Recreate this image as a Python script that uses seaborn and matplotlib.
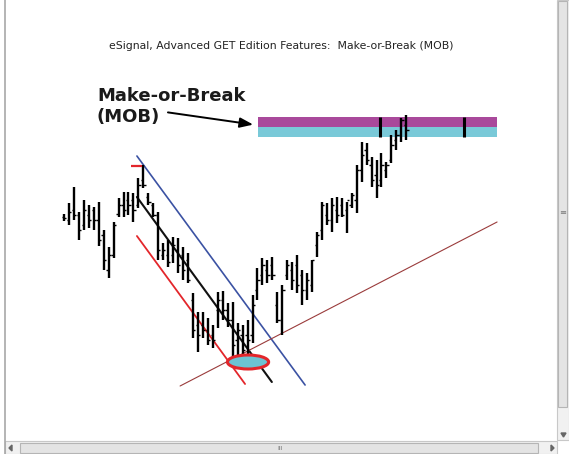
import numpy as np
import pandas as pd
import matplotlib
matplotlib.use("Agg")
import matplotlib.pyplot as plt
from matplotlib.patches import Ellipse, Rectangle, Polygon
import seaborn as sns

# precos diarios (barras OHLC)
maximos = [28.6, 29.7, 31.3, 28.8, 30.0, 29.5, 29.3, 29.8, 27.0, 25.3,
           27.8, 30.2, 30.8, 30.8, 30.7, 32.2, 33.5, 30.7, 29.7, 28.8,
           25.7, 26.0, 26.3, 26.2, 25.3, 24.7, 20.7, 18.8, 18.8, 18.2,
           17.5, 20.8, 20.9, 19.7, 19.8, 17.7, 17.5, 18.0, 20.5, 23.2,
           24.2, 24.0, 24.3, 20.8, 21.5, 24.0, 23.8, 24.5, 23.0, 22.7,
           24.0, 26.8, 29.8, 29.7, 30.2, 30.3, 30.2, 29.8, 30.7, 33.5,
           35.8, 35.7, 34.3, 34.0, 34.7, 33.8, 36.5, 37.0, 38.2, 38.5]
minimos = [27.9, 27.5, 28.0, 26.0, 27.0, 27.2, 27.0, 25.4, 23.0, 22.2,
           24.2, 28.3, 28.3, 28.5, 27.8, 29.2, 31.2, 29.5, 28.3, 24.0,
           24.0, 23.3, 23.7, 22.7, 22.0, 21.7, 16.2, 14.8, 16.2, 15.5,
           15.2, 17.2, 18.0, 17.3, 14.2, 14.3, 14.3, 13.8, 15.7, 20.0,
           21.5, 21.7, 22.0, 17.7, 16.5, 22.0, 21.0, 20.7, 19.5, 20.0,
           20.8, 24.3, 26.0, 27.5, 26.8, 27.7, 28.3, 26.7, 29.2, 28.7,
           31.8, 33.5, 31.3, 30.2, 31.3, 32.2, 33.7, 35.0, 35.8, 36.0]
aberturas = [28.3, 28.0, 29.0, 28.5, 27.5, 28.5, 29.0, 28.0, 26.5, 23.0,
             24.5, 28.6, 29.5, 30.0, 30.0, 29.5, 32.0, 30.3, 29.5, 28.5,
             24.5, 24.5, 24.5, 25.0, 24.5, 24.0, 20.0, 17.5, 17.5, 17.0,
             16.5, 19.0, 20.0, 19.0, 18.0, 16.0, 16.5, 16.5, 16.5, 21.0,
             22.5, 23.0, 23.5, 19.5, 18.0, 22.5, 23.0, 23.5, 22.5, 21.0,
             21.5, 25.5, 27.0, 28.5, 28.0, 29.0, 29.5, 29.0, 29.5, 30.0,
             33.0, 35.0, 33.5, 32.5, 32.0, 33.0, 34.0, 36.0, 36.5, 37.5]
fechos = [28.2, 28.8, 28.5, 27.0, 29.0, 28.0, 28.0, 26.0, 24.0, 24.5,
          27.5, 29.5, 29.0, 29.5, 29.0, 31.5, 31.5, 29.8, 28.5, 25.0,
          25.0, 23.8, 25.5, 23.5, 23.0, 22.0, 17.0, 16.5, 17.0, 16.0,
          16.0, 20.0, 19.0, 18.0, 15.5, 17.0, 15.0, 16.0, 19.5, 22.0,
          23.5, 22.5, 22.5, 18.0, 21.0, 23.5, 22.0, 21.5, 21.0, 22.0,
          24.0, 26.5, 29.5, 28.0, 29.5, 28.5, 28.5, 30.0, 30.5, 33.0,
          34.5, 34.0, 32.0, 31.5, 33.5, 33.5, 35.5, 36.5, 38.0, 37.0]

# linhas de tendencia (barra inicial, preco inicial, barra final, preco final)
linhas = {
    "azul": [14.7, 34.4, 48.6, 11.5],
    "preta": [14.7, 30.3, 41.9, 11.8],
    "vermelha": [14.7, 26.4, 36.5, 11.6],
    "castanha": [23.4, 11.4, 87.3, 27.8],
}
cores_linhas = {"azul": "#3b52a3", "preta": "#111111",
                "vermelha": "#e3262b", "castanha": "#9a3b3b"}
largura_linhas = {"azul": 1.2, "preta": 1.5, "vermelha": 1.3, "castanha": 0.8}

# zona Make-or-Break
mob_inicio, mob_fim = 39.1, 87.3
mob_topo, mob_meio, mob_base = 38.3, 37.3, 36.3
mob_marcas = [63.7, 80.6]

topo_vermelho = [13.5, 15.7, 33.4]
elipse = [37.1, 13.8, 8.3, 1.4]

titulo = "eSignal, Advanced GET Edition Features:  Make-or-Break (MOB)"

W, H = 569, 454
fig = plt.figure(figsize=(W / 100, H / 100), dpi=100)
sns.set_style("white")
ax = fig.add_axes([0, 0, 1, 1])
ax.set_xlim(-12.9, 101.8)
ax.set_ylim(4.6, 50)
ax.axis("off")

barras = np.arange(len(maximos))
ax.vlines(barras, minimos, maximos, color="black", lw=1.7, zorder=3)
ax.hlines(aberturas, barras - 0.45, barras, color="black", lw=1.0, zorder=3)
ax.hlines(fechos, barras, barras + 0.45, color="black", lw=1.0, zorder=3)

# banda MOB
ax.add_patch(Rectangle((mob_inicio, mob_meio), mob_fim - mob_inicio, mob_topo - mob_meio,
                       color="#a9499b", lw=0, zorder=2))
ax.add_patch(Rectangle((mob_inicio, mob_base), mob_fim - mob_inicio, mob_meio - mob_base,
                       color="#79c9d8", lw=0, zorder=2))
ax.vlines(mob_marcas, mob_base, mob_topo, color="black", lw=2.2, zorder=3)

df_linhas = pd.DataFrame(
    [(nome, v[0], v[1]) for nome, v in linhas.items()] +
    [(nome, v[2], v[3]) for nome, v in linhas.items()],
    columns=["linha", "barra", "preco"])
for nome in linhas:
    sns.lineplot(data=df_linhas[df_linhas["linha"] == nome], x="barra", y="preco",
                 color=cores_linhas[nome], lw=largura_linhas[nome], ax=ax,
                 sort=False, zorder=2)

ax.hlines(topo_vermelho[2], topo_vermelho[0], topo_vermelho[1], color="#e3262b", lw=1.6, zorder=4)

ax.add_patch(Ellipse((elipse[0], elipse[1]), elipse[2], elipse[3],
                     facecolor="#6cc3d3", edgecolor="#e3262b", lw=2.2, zorder=4))

ax.set_xlabel("")
ax.set_ylabel("")

fig.text(0.495, 1 - 46 / H, titulo, ha="center", va="center", fontsize=7.8,
         family="DejaVu Sans", color="#222222")
fig.text(97 / W, 1 - 96 / H, "Make-or-Break", ha="left", va="center",
         fontsize=13, fontweight="bold", color="#1a1a1a")
fig.text(97 / W, 1 - 117 / H, "(MOB)", ha="left", va="center",
         fontsize=13, fontweight="bold", color="#1a1a1a")
ax.annotate("", xy=(38.7, 37.5), xytext=(20.4, 38.8),
            arrowprops=dict(arrowstyle="-|>,head_length=0.8,head_width=0.3",
                            color="black", lw=1.4))

# moldura da janela (barras de deslocamento)
moldura = fig.add_axes([0, 0, 1, 1], zorder=5)
moldura.set_xlim(0, W)
moldura.set_ylim(H, 0)
moldura.axis("off")
moldura.patch.set_alpha(0)
moldura.add_patch(Rectangle((557, 0), 12, 440, facecolor="#f1f1f1", edgecolor="#c8c8c8", lw=0.8))
moldura.add_patch(Rectangle((558.5, 1), 9, 406, facecolor="#e4e4e4", edgecolor="#b5b5b5", lw=0.8))
moldura.text(563, 212, "≡", ha="center", va="center", fontsize=6, color="#777777")
moldura.add_patch(Polygon([[561, 433], [566, 433], [563.5, 437]], color="#666666"))
moldura.add_patch(Rectangle((5, 441), 552, 13, facecolor="#f1f1f1", edgecolor="#c8c8c8", lw=0.8))
moldura.add_patch(Rectangle((20, 443), 518, 10, facecolor="#e4e4e4", edgecolor="#b5b5b5", lw=0.8))
moldura.text(280, 448, "III", ha="center", va="center", fontsize=4.5, color="#777777")
moldura.add_patch(Polygon([[12, 445], [12, 451], [9, 448]], color="#666666"))
moldura.add_patch(Polygon([[551, 445], [551, 451], [554, 448]], color="#666666"))
moldura.plot([5, 5], [0, H], color="#a8a8a8", lw=1.2)

fig.savefig("out.png", dpi=100)
